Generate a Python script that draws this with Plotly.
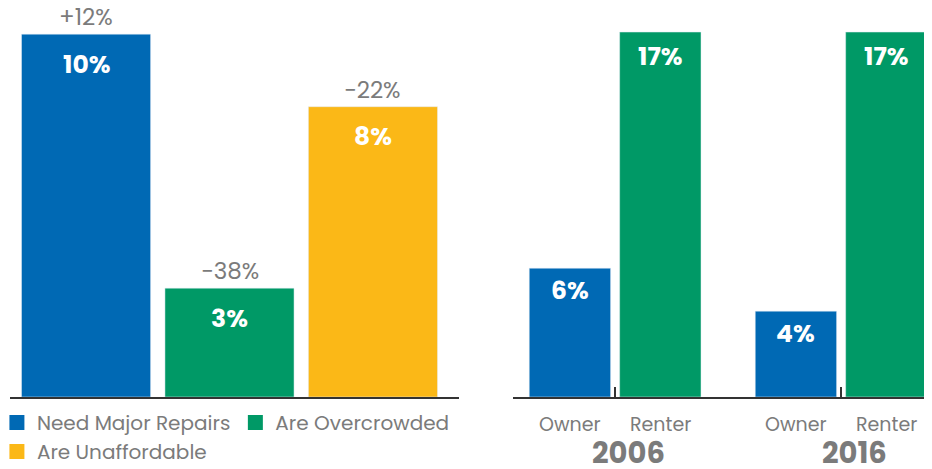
import plotly.graph_objects as go

# left panel: share of households (%) and change
problems = ["Need Major Repairs", "Are Overcrowded", "Are Unaffordable"]
problem_vals = [10, 3, 8]
problem_change = ["+12%", "\u221238%", "\u221222%"]

# right panel: owner vs renter by year
years = ["2006", "2016"]
owner_vals = [6, 4]
renter_vals = [17, 17]

blue = "#0069b4"
green = "#009966"
yellow = "#fbb817"
grey = "#7b7b7b"
font = "Poppins, Open Sans, sans-serif"

fig = go.Figure()

cols = [blue, green, yellow]
for i, name in enumerate(problems):
    fig.add_trace(go.Bar(x=[i], y=[problem_vals[i]], name=name, marker_color=cols[i],
                         width=0.9, xaxis="x", yaxis="y", showlegend=False))
    # legend entry with a bigger square swatch
    fig.add_trace(go.Scatter(x=[None], y=[None], mode="markers", name=name,
                             marker=dict(symbol="square", size=15, color=cols[i]),
                             xaxis="x", yaxis="y",
                             legend="legend" if i < 2 else "legend2"))

owner_x = [0, 2.5]
renter_x = [1, 3.5]
fig.add_trace(go.Bar(x=owner_x, y=owner_vals, marker_color=blue, width=0.9,
                     xaxis="x2", yaxis="y2", showlegend=False))
fig.add_trace(go.Bar(x=renter_x, y=renter_vals, marker_color=green, width=0.9,
                     xaxis="x2", yaxis="y2", showlegend=False))

ann = []
for i in range(3):
    ann.append(dict(x=i, y=problem_vals[i], xref="x", yref="y", text=f"<b>{problem_vals[i]}%</b>",
                    showarrow=False, yanchor="middle", yshift=-30,
                    font=dict(size=25, color="white", family=font)))
    ann.append(dict(x=i, y=problem_vals[i], xref="x", yref="y", text=problem_change[i],
                    showarrow=False, yanchor="bottom", yshift=-1,
                    font=dict(size=23, color=grey, family=font)))
for xs, vals in [(owner_x, owner_vals), (renter_x, renter_vals)]:
    for x, v in zip(xs, vals):
        ann.append(dict(x=x, y=v, xref="x2", yref="y2", text=f"<b>{v}%</b>",
                        showarrow=False, yanchor="middle", yshift=-24 if v > 10 else -22,
                        font=dict(size=25, color="white", family=font)))
for x in owner_x:
    ann.append(dict(x=x, y=-0.07, xref="x2", yref="paper", text="Owner", showarrow=False,
                    yanchor="middle", font=dict(size=19, color=grey, family=font)))
for x in renter_x:
    ann.append(dict(x=x, y=-0.07, xref="x2", yref="paper", text="Renter", showarrow=False,
                    yanchor="middle", font=dict(size=19, color=grey, family=font)))
for xs, yr in zip([0.65, 3.15], years):
    ann.append(dict(x=xs, y=-0.145, xref="x2", yref="paper", text=f"<b>{yr}</b>", showarrow=False,
                    yanchor="middle", font=dict(size=29, color=grey, family=font)))

fig.update_layout(
    width=924, height=461,
    margin=dict(l=0, r=0, t=0, b=72, autoexpand=False),
    plot_bgcolor="white", paper_bgcolor="white",
    font=dict(family=font, color=grey),
    xaxis=dict(domain=[0.0022, 0.4881], range=[-0.53, 2.6], showgrid=False, zeroline=False,
               showticklabels=False, showline=True, linecolor="#333333", linewidth=2),
    yaxis=dict(range=[0, 10.72], visible=False),
    xaxis2=dict(domain=[0.5465, 0.9946], range=[-0.63, 3.95], showgrid=False, zeroline=False,
                tickvals=[0.5, 3], ticktext=["", ""], ticks="inside", ticklen=10, tickwidth=2,
                tickcolor="#333333", showline=True, linecolor="#333333", linewidth=2),
    yaxis2=dict(range=[0, 18.12], visible=False, anchor="x2"),
    legend=dict(orientation="h", x=-0.012, y=-0.0154, xanchor="left", yanchor="top",
                itemsizing="trace",
                font=dict(size=20, color=grey, family=font), bgcolor="rgba(0,0,0,0)"),
    legend2=dict(orientation="h", x=-0.012, y=-0.09, xanchor="left", yanchor="top",
                 itemsizing="trace",
                 font=dict(size=20, color=grey, family=font), bgcolor="rgba(0,0,0,0)"),
    annotations=ann,
)

fig.write_html("out.html")
